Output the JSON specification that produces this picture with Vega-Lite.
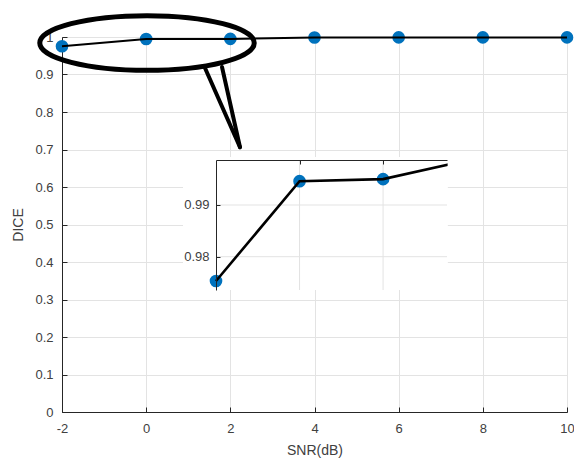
{
  "$schema": "https://vega.github.io/schema/vega-lite/v6.json",
  "width": 505,
  "height": 375,
  "autosize": {"type": "none"},
  "padding": {"left": 62, "top": 37, "right": 7, "bottom": 47},
  "background": "white",
  "config": {
    "font": "Liberation Sans",
    "view": {"stroke": "#262626", "strokeWidth": 1},
    "axis": {
      "labelFont": "Liberation Sans",
      "titleFont": "Liberation Sans",
      "labelFontSize": 13,
      "titleFontSize": 14,
      "labelColor": "#404040",
      "titleColor": "#404040",
      "titleFontWeight": "normal",
      "domainColor": "#262626",
      "tickColor": "#262626",
      "gridColor": "#e3e3e3",
      "gridOpacity": 1,
      "labelFlush": false,
      "labelOverlap": false
    }
  },
  "datasets": {
    "dice": [
      {"snr": -2, "dice": 0.9753},
      {"snr": 0, "dice": 0.9946},
      {"snr": 2, "dice": 0.995},
      {"snr": 4, "dice": 0.9986},
      {"snr": 6, "dice": 0.999},
      {"snr": 8, "dice": 0.999},
      {"snr": 10, "dice": 0.999}
    ]
  },
  "layer": [
    {
      "data": {"name": "dice"},
      "encoding": {
        "x": {
          "field": "snr", "type": "quantitative",
          "scale": {"domain": [-2, 10], "nice": false, "zero": false},
          "axis": {"values": [-2, 0, 2, 4, 6, 8, 10], "labelExpr": "'' + datum.value", "tickSize": -5, "labelPadding": 15, "title": "SNR(dB)", "titlePadding": 8, "grid": true}
        },
        "y": {
          "field": "dice", "type": "quantitative",
          "scale": {"domain": [0, 1], "nice": false, "zero": false},
          "axis": {"values": [0, 0.1, 0.2, 0.3, 0.4, 0.5, 0.6, 0.7, 0.8, 0.9, 1], "format": "~g", "tickSize": -5, "labelPadding": 14, "title": "DICE", "titlePadding": 9, "grid": true}
        }
      },
      "layer": [
        {"mark": {"type": "point", "filled": true, "color": "#0072BD", "opacity": 1, "size": 160}},
        {"mark": {"type": "line", "color": "black", "strokeWidth": 2}}
      ]
    },
    {
      "layer": [
        {
          "data": {"values": [{}]},
          "mark": {"type": "rect", "color": "white"},
          "encoding": {
            "x": {"datum": -2.79, "type": "quantitative", "scale": {"domain": [-2, 3.53], "range": [154, 385], "nice": false, "zero": false},
              "axis": {"orient": "top", "offset": -123, "values": [0, 2], "labels": false, "grid": false, "tickSize": -4, "title": null, "zindex": 2}},
            "x2": {"datum": 3.55},
            "y": {"datum": 0.97356, "type": "quantitative", "scale": {"domain": [0.97356, 0.9987], "range": [253, 123], "nice": false, "zero": false},
              "axis": {"orient": "left", "offset": -154, "values": [0.98, 0.99], "format": ".2f", "grid": false, "tickSize": -4, "labelPadding": 11, "title": null, "zindex": 2}},
            "y2": {"datum": 0.99928}
          }
        },
        {
          "data": {"values": [{"g": 0.98}, {"g": 0.99}]},
          "mark": {"type": "rule", "color": "#e3e3e3", "strokeWidth": 1},
          "encoding": {
            "x": {"datum": -2, "type": "quantitative"},
            "x2": {"datum": 3.53},
            "y": {"field": "g", "type": "quantitative"}
          }
        },
        {
          "data": {"values": [{"g": 0}, {"g": 2}]},
          "mark": {"type": "rule", "color": "#e3e3e3", "strokeWidth": 1},
          "encoding": {
            "x": {"field": "g", "type": "quantitative"},
            "y": {"datum": 0.97356, "type": "quantitative"},
            "y2": {"datum": 0.9987}
          }
        },
        {
          "data": {"name": "dice"},
          "transform": [{"filter": "datum.snr <= 2"}],
          "mark": {"type": "point", "filled": true, "color": "#0072BD", "opacity": 1, "size": 160},
          "encoding": {
            "x": {"field": "snr", "type": "quantitative"},
            "y": {"field": "dice", "type": "quantitative"}
          }
        },
        {
          "data": {"name": "dice"},
          "transform": [{"filter": "datum.snr <= 4"}],
          "mark": {"type": "line", "color": "black", "strokeWidth": 2.6},
          "encoding": {
            "x": {"field": "snr", "type": "quantitative"},
            "y": {"field": "dice", "type": "quantitative"}
          }
        },
        {
          "data": {"values": [{}]},
          "mark": {"type": "rect", "color": "white"},
          "encoding": {
            "x": {"datum": 3.545, "type": "quantitative"},
            "x2": {"datum": 4.12},
            "y": {"datum": 0.9966, "type": "quantitative"},
            "y2": {"datum": 0.99935}
          }
        }
      ]
    },
    {
      "data": {"values": [{}]},
      "layer": [
        {
          "mark": {"type": "point", "shape": "M -1 0 A 1 0.255 0 1 0 1 0 A 1 0.255 0 1 0 -1 0 Z", "filled": false, "stroke": "black", "strokeWidth": 5, "opacity": 1, "size": 46000},
          "encoding": {
            "x": {"datum": 0.02, "type": "quantitative", "scale": {"domain": [-2, 10], "nice": false, "zero": false}, "axis": null},
            "y": {"datum": 0.984, "type": "quantitative", "scale": {"domain": [0, 1], "nice": false, "zero": false}, "axis": null}
          }
        },
        {
          "mark": {"type": "rule", "color": "black", "strokeWidth": 4, "strokeCap": "round"},
          "encoding": {
            "x": {"datum": 1.398, "type": "quantitative"},
            "y": {"datum": 0.9173, "type": "quantitative"},
            "x2": {"datum": 2.23},
            "y2": {"datum": 0.706}
          }
        },
        {
          "mark": {"type": "rule", "color": "black", "strokeWidth": 4, "strokeCap": "round"},
          "encoding": {
            "x": {"datum": 1.802, "type": "quantitative"},
            "y": {"datum": 0.92, "type": "quantitative"},
            "x2": {"datum": 2.23},
            "y2": {"datum": 0.706}
          }
        }
      ]
    }
  ],
  "resolve": {"scale": {"x": "independent", "y": "independent"}}
}
